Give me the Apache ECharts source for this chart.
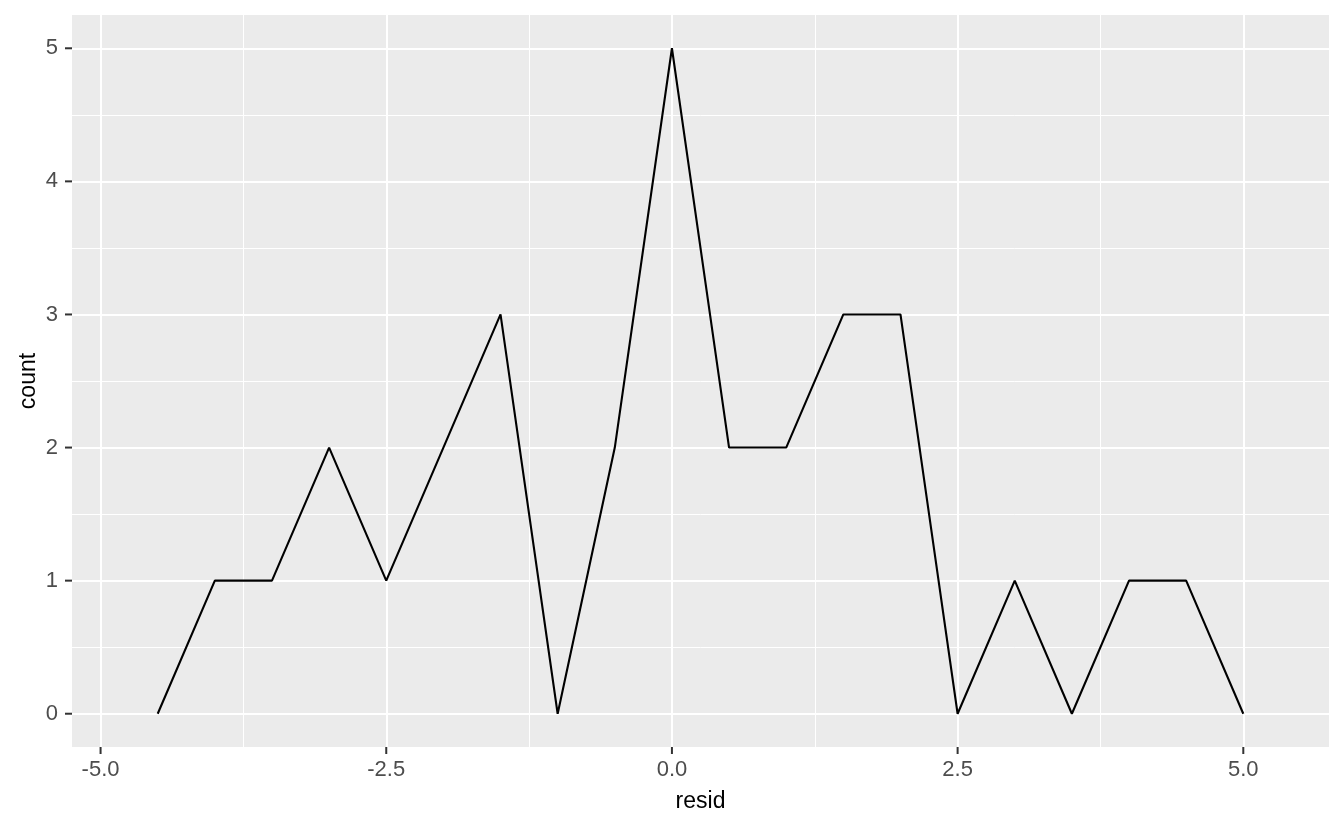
<!DOCTYPE html>
<html><head><meta charset="utf-8">
<script src="https://cdn.jsdelivr.net/npm/echarts@6/dist/echarts.min.js"></script>
<style>html,body{margin:0;padding:0;background:#fff}#c{width:1344px;height:830px}</style>
</head><body><div id="c"></div>
<script>
const residBins = [-4.5,-4,-3.5,-3,-2.5,-2,-1.5,-1,-0.5,0,0.5,1,1.5,2,2.5,3,3.5,4,4.5,5];
const counts    = [0,1,1,2,1,2,3,0,2,5,2,2,3,3,0,1,0,1,1,0];
const xTicks = [-5,-2.5,0,2.5,5];
const xMinor = [-3.75,-1.25,1.25,3.75];
const yTicks = [0,1,2,3,4,5];
const yMinor = [0.5,1.5,2.5,3.5,4.5];
const X_MIN = -5.25, X_MAX = 5.75, Y_MIN = -0.25, Y_MAX = 5.25;

const chart = echarts.init(document.getElementById('c'));
const font = 'Liberation Sans, Arial, sans-serif';
const major = {width:2, color:'#ffffff', type:'solid'};
const minor = {width:1, color:'#ffffff', type:'solid'};
const markData = [
  ...xMinor.map(v=>({xAxis:v, lineStyle:minor})),
  ...yMinor.map(v=>({yAxis:v, lineStyle:minor})),
  ...xTicks.map(v=>({xAxis:v, lineStyle:major})),
  ...yTicks.map(v=>({yAxis:v, lineStyle:major}))
];
const TICK = 7;
const tickData = [
  ...xTicks.map(v=>[v, Y_MIN, 0]),
  ...yTicks.map(v=>[X_MIN, v, 1])
];
chart.setOption({
  animation:false,
  grid:{left:72, right:15, top:15, bottom:83, show:true, backgroundColor:'#ebebeb', borderWidth:0},
  xAxis:{type:'value', min:X_MIN, max:X_MAX, name:'resid', nameLocation:'middle', nameGap:43,
    nameMoveOverlap:false,
    nameTextStyle:{color:'#000', fontSize:23, fontFamily:font},
    axisLine:{show:false}, splitLine:{show:false}, axisTick:{show:false},
    axisLabel:{customValues:xTicks, color:'#4d4d4d', fontSize:22, fontFamily:font, margin:12,
      formatter:v=>v.toFixed(1)}},
  yAxis:{type:'value', min:Y_MIN, max:Y_MAX, name:'count', nameLocation:'middle', nameGap:32,
    nameMoveOverlap:false,
    nameTextStyle:{color:'#000', fontSize:23, fontFamily:font},
    axisLine:{show:false}, splitLine:{show:false}, axisTick:{show:false},
    axisLabel:{customValues:yTicks, color:'#4d4d4d', fontSize:22, fontFamily:font, margin:14}},
  series:[
    {type:'line', data:residBins.map((x,i)=>[x,counts[i]]), symbol:'none',
      lineStyle:{color:'#000', width:2.1}, z:5,
      markLine:{silent:true, symbol:['none','none'], label:{show:false}, animation:false, data:markData, z:1}},
    {type:'custom', clip:false, silent:true, z:6, data:tickData,
      renderItem:(params, api)=>{
        const p = api.coord([api.value(0), api.value(1)]);
        const vert = api.value(2) === 0;
        return {type:'line', shape: vert ? {x1:p[0], y1:p[1], x2:p[0], y2:p[1]+TICK}
                                         : {x1:p[0]-TICK, y1:p[1], x2:p[0], y2:p[1]},
          style:{stroke:'#333333', lineWidth:2}};
      }}
  ]
});
</script></body></html>
